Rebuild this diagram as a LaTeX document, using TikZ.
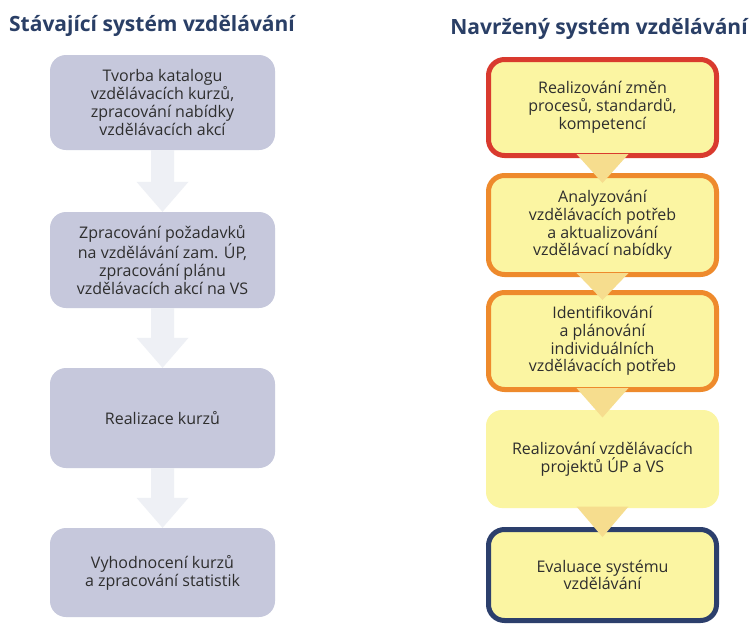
\documentclass[tikz,border=0pt]{standalone}
\usepackage{fontspec}
\setmainfont{Open Sans}
\usetikzlibrary{calc}
\definecolor{titleblue}{HTML}{2A3F66}
\definecolor{txtgray}{HTML}{2E2E2E}
\definecolor{lfill}{HTML}{C6C8DC}
\definecolor{larrowc}{HTML}{EEF0F5}
\definecolor{rfill}{HTML}{FBF5A2}
\definecolor{rarrowc}{HTML}{F6DD8E}
\definecolor{bred}{HTML}{D93A2E}
\definecolor{borange}{HTML}{EE8A2C}
\definecolor{bnavy}{HTML}{2C3F6C}
\tikzset{
  x=1pt,y=1pt,
  ttl/.style={font=\fontsize{21}{24}\selectfont\bfseries, text=titleblue, inner sep=0pt},
  lbox/.style={fill=lfill, rounded corners=16pt, minimum width=225pt, align=center,
    text=txtgray, font=\fontsize{16}{17.8}\selectfont, inner sep=0pt},
  rbox/.style={fill=rfill, rounded corners=16pt, minimum width=228pt, align=center,
    text=txtgray, font=\fontsize{16}{17.8}\selectfont, inner sep=0pt, line width=5pt},
  larrow/.style={fill=larrowc},
  rarrow/.style={fill=rarrowc},
}
\begin{document}
\begin{tikzpicture}
\fill[white] (0,0) rectangle (752,-624);
\useasboundingbox (0,0) rectangle (752,-624);

\node[ttl] (t1) at (152,-26) {Stávající systém vzdělávání};
\node[ttl] (t2) at (599,-29) {Navržený systém vzdělávání};

% left column
\node[lbox, minimum height=95pt] (L1) at (162.5,-102.5) {Tvorba katalogu\\vzdělávacích kurzů,\\zpracování nabídky\\vzdělávacích akcí};
\node[lbox, minimum height=96pt] (L2) at (162.5,-260) {Zpracování požadavků\\na vzdělávání zam. ÚP,\\zpracování plánu\\vzdělávacích akcí na VS};
\node[lbox, minimum height=100pt] (L3) at (162.5,-418) {Realizace kurzů};
\node[lbox, minimum height=89pt] (L4) at (162.5,-572.5) {Vyhodnocení kurzů\\a zpracování statistik};

\foreach \a/\b in {L1/L2, L2/L3, L3/L4}{
  \fill[larrow] ($(\a.south)+(-11.5,0)$) -- ($(\b.north)+(-11.5,30)$) -- ($(\b.north)+(-26,30)$)
    -- (\b.north) -- ($(\b.north)+(26,30)$) -- ($(\b.north)+(11.5,30)$) -- ($(\a.south)+(11.5,0)$) -- cycle;
}

% right column
\node[rbox, draw=bred, minimum height=96pt] (R1) at (602.5,-107.5) {Realizování změn\\procesů, standardů,\\kompetencí};
\node[rbox, draw=borange, minimum height=99pt] (R2) at (602.5,-225) {Analyzování\\vzdělávacích potřeb\\a aktualizování\\vzdělávací nabídky};
\node[rbox, draw=borange, minimum height=97pt] (R3) at (602.5,-341) {Identifikování\\a plánování\\individuálních\\vzdělávacích potřeb};
\node[rbox, minimum width=233pt, minimum height=98pt] (R4) at (602.5,-459) {Realizování vzdělávacích\\projektů ÚP a VS};
\node[rbox, draw=bnavy, minimum height=91pt] (R5) at (602.5,-575) {Evaluace systému\\vzdělávání};

\foreach \a/\b in {R1/R2, R2/R3, R3/R4, R4/R5}{
  \fill[rarrow] ($(\a.south)+(-26,4)$) -- ($(\b.north)+(0,-10)$) -- ($(\a.south)+(26,4)$) -- cycle;
}
\end{tikzpicture}
\end{document}
